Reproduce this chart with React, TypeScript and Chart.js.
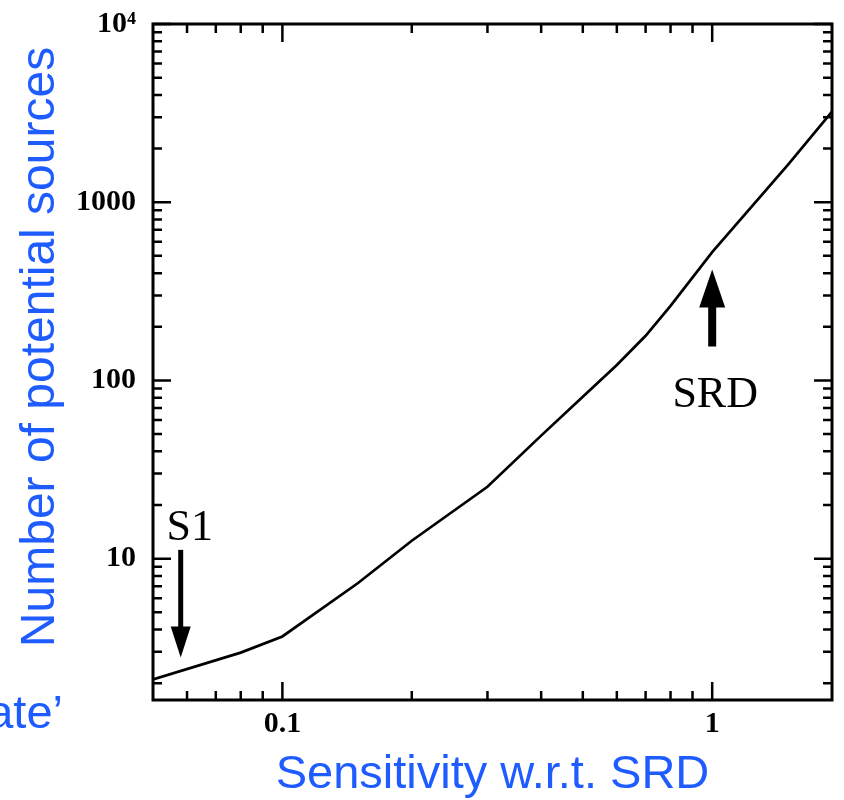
import React, { useEffect, useRef } from 'react';
import { Chart, registerables } from 'chart.js';

Chart.register(...registerables);

// Curve: number of potential sources vs sensitivity (w.r.t. SRD)
const sensitivity = [0.05, 0.08, 0.1, 0.15, 0.2, 0.3, 0.4, 0.5, 0.6, 0.7, 0.8, 1, 1.5, 1.9];
const sources = [2.1, 2.97, 3.66, 7.3, 12.6, 25.3, 49, 81, 122, 178, 262, 525, 1620, 3220];

// Axes ranges
const xMin = 0.05;
const xMax = 1.9;
const yMin = 1.61;
const yMax = 10000;

// Tick positions (minor + major) and labelled ticks
const xTickValues = [0.06, 0.07, 0.08, 0.09, 0.1, 0.2, 0.3, 0.4, 0.5, 0.6, 0.7, 0.8, 0.9, 1];
const yTickValues = [
  2, 3, 4, 5, 6, 7, 8, 9, 10,
  20, 30, 40, 50, 60, 70, 80, 90, 100,
  200, 300, 400, 500, 600, 700, 800, 900, 1000,
  2000, 3000, 4000, 5000, 6000, 7000, 8000, 9000, 10000,
];
const xLabelValues = [0.1, 1];
const xLabelTexts = ['0.1', '1'];
const yLabelValues = [10, 100, 1000, 10000];
const yLabelTexts = ['10', '100', '1000', '10\u2074'];
const majorValues = [0.1, 1, 10, 100, 1000, 10000];

// Annotation arrows (data coordinates)
const arrowLabels = ['S1', 'SRD'];
const arrowX = [0.058, 1];
const arrowFromY = [11.2, 155];
const arrowToY = [2.79, 419];

// Titles
const xTitle = 'Sensitivity w.r.t. SRD';
const yTitle = 'Number of potential sources';
const sideFragment = 'ate\u2019';

const BLUE = '#1f5cff';
const arrowStyles = [
  { shaft: 5, headHalf: 10, headLen: 31 },
  { shaft: 8, headHalf: 13, headLen: 38 },
];

const near = (a: number, b: number) => Math.abs(a - b) < 1e-9 * Math.max(1, Math.abs(b));

const decorPlugin = {
  id: 'decor',
  afterDraw(chart: any) {
    const ctx = chart.ctx as CanvasRenderingContext2D;
    const { left, right, top, bottom } = chart.chartArea;
    const xs = chart.scales.x;
    const ys = chart.scales.y;
    ctx.save();
    // Frame
    ctx.strokeStyle = '#000';
    ctx.lineWidth = 3;
    ctx.lineCap = 'butt';
    ctx.strokeRect(left, top, right - left, bottom - top);
    // Tick marks (inward, mirrored)
    ctx.lineWidth = 2.5;
    ctx.beginPath();
    xTickValues.forEach((v) => {
      const px = xs.getPixelForValue(v);
      const len = majorValues.some((m) => near(m, v)) ? 18 : 9;
      ctx.moveTo(px, bottom);
      ctx.lineTo(px, bottom - len);
      ctx.moveTo(px, top);
      ctx.lineTo(px, top + len);
    });
    yTickValues.forEach((v) => {
      const py = ys.getPixelForValue(v);
      const len = majorValues.some((m) => near(m, v)) ? 18 : 9;
      ctx.moveTo(left, py);
      ctx.lineTo(left + len, py);
      ctx.moveTo(right, py);
      ctx.lineTo(right - len, py);
    });
    ctx.stroke();

    // Arrows with labels
    arrowLabels.forEach((label, i) => {
      const st = arrowStyles[i];
      const px = xs.getPixelForValue(arrowX[i]);
      const y0 = ys.getPixelForValue(arrowFromY[i]);
      const y1 = ys.getPixelForValue(arrowToY[i]);
      const dir = y1 > y0 ? 1 : -1;
      const base = y1 - dir * st.headLen;
      ctx.strokeStyle = '#000';
      ctx.fillStyle = '#000';
      ctx.lineWidth = st.shaft;
      ctx.beginPath();
      ctx.moveTo(px, y0);
      ctx.lineTo(px, base + dir * 1);
      ctx.stroke();
      ctx.beginPath();
      ctx.moveTo(px, y1);
      ctx.lineTo(px - st.headHalf, base);
      ctx.lineTo(px + st.headHalf, base);
      ctx.closePath();
      ctx.fill();
      ctx.font = '44px "Liberation Serif", "Times New Roman", serif';
      ctx.textAlign = 'center';
      ctx.textBaseline = 'alphabetic';
      if (dir > 0) {
        ctx.fillText(label, px + 9, y0 - 10);
      } else {
        ctx.fillText(label, px + 3, y0 + 60);
      }
    });

    // Blue slide titles
    ctx.fillStyle = BLUE;
    ctx.font = '47px "Liberation Sans", Arial, sans-serif';
    ctx.textAlign = 'center';
    ctx.textBaseline = 'alphabetic';
    ctx.fillText(xTitle, (left + right) / 2, 788);
    ctx.textAlign = 'right';
    ctx.fillText(sideFragment, 63, 728);
    ctx.save();
    ctx.translate(54, 347);
    ctx.rotate(-Math.PI / 2);
    ctx.textAlign = 'center';
    ctx.font = '48px "Liberation Sans", Arial, sans-serif';
    ctx.fillText(yTitle, 0, 0);
    ctx.restore();
    ctx.restore();
  },
};

const tickFont = { family: '"Liberation Serif", "Times New Roman", serif', weight: 'bold' as const, size: 30 };

export default function App() {
  const canvasRef = useRef<HTMLCanvasElement | null>(null);

  useEffect(() => {
    if (!canvasRef.current) return;
    const chart = new Chart(canvasRef.current, {
      type: 'line',
      data: {
        datasets: [
          {
            data: sensitivity.map((x, i) => ({ x, y: sources[i] })),
            borderColor: '#000',
            borderWidth: 2.7,
            pointRadius: 0,
            tension: 0,
            fill: false,
          },
        ],
      },
      options: {
        animation: false,
        responsive: false,
        maintainAspectRatio: false,
        layout: { padding: { top: 24, right: 12, left: 0, bottom: 0 } },
        plugins: { legend: { display: false }, tooltip: { enabled: false } },
        scales: {
          x: {
            type: 'logarithmic',
            min: xMin,
            max: xMax,
            afterBuildTicks: (s: any) => {
              s.ticks = xTickValues.map((v) => ({ value: v }));
            },
            afterFit: (s: any) => {
              s.height = 100;
              s.paddingLeft = 0;
              s.paddingRight = 0;
            },
            grid: { display: false, drawTicks: false },
            border: { display: false },
            ticks: {
              autoSkip: false,
              maxRotation: 0,
              padding: 6,
              color: '#000',
              font: tickFont,
              callback: (v: any) => {
                const i = xLabelValues.findIndex((m) => near(m, Number(v)));
                return i >= 0 ? xLabelTexts[i] : '';
              },
            },
          },
          y: {
            type: 'logarithmic',
            min: yMin,
            max: yMax,
            afterBuildTicks: (s: any) => {
              s.ticks = yTickValues.map((v) => ({ value: v }));
            },
            afterFit: (s: any) => {
              s.width = 153;
              s.paddingTop = 0;
              s.paddingBottom = 0;
            },
            grid: { display: false, drawTicks: false },
            border: { display: false },
            ticks: {
              autoSkip: false,
              padding: 17,
              color: '#000',
              font: tickFont,
              callback: (v: any) => {
                const i = yLabelValues.findIndex((m) => near(m, Number(v)));
                return i >= 0 ? yLabelTexts[i] : '';
              },
            },
          },
        },
      },
      plugins: [decorPlugin],
    } as any);
    return () => chart.destroy();
  }, []);

  return (
    <div style={{ position: 'fixed', left: 0, top: 0, width: 844, height: 800, background: '#fff' }}>
      <canvas ref={canvasRef} width={844} height={800} style={{ display: 'block' }} />
    </div>
  );
}
